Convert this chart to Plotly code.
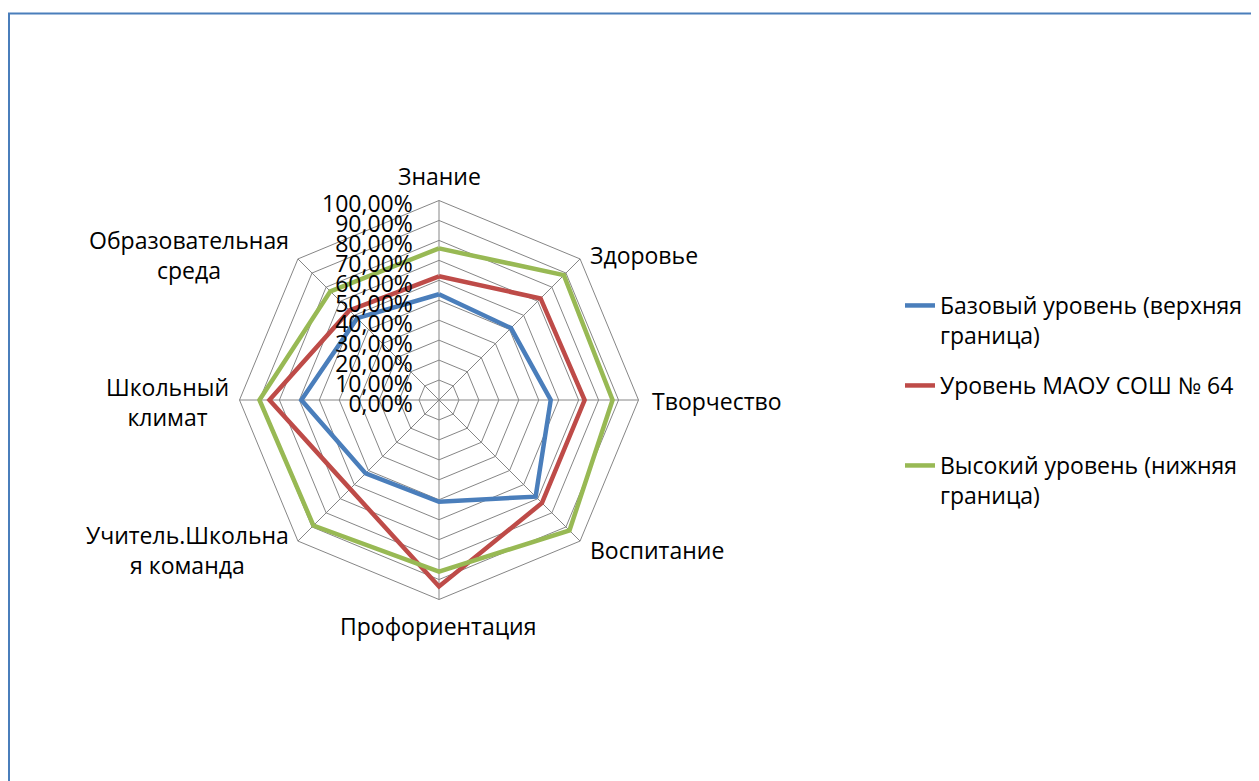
import plotly.graph_objects as go

categories = ["Знание", "Здоровье", "Творчество", "Воспитание", "Профориентация",
              "Учитель.Школьная команда", "Школьный климат", "Образовательная среда"]
category_labels = ["Знание", "Здоровье", "Творчество", "Воспитание", "Профориентация",
                   "Учитель.Школьна<br>я команда", "Школьный<br>климат", "Образовательная<br>среда"]

series_names = ["Базовый уровень (верхняя<br>граница)",
                "Уровень МАОУ СОШ № 64",
                "Высокий уровень (нижняя<br>граница)"]
basic = [0.53, 0.51, 0.56, 0.685, 0.51, 0.52, 0.69, 0.58]
school = [0.62, 0.72, 0.73, 0.73, 0.935, 0.63, 0.85, 0.635]
high = [0.76, 0.885, 0.87, 0.925, 0.86, 0.89, 0.90, 0.77]

colors = ["#4A7EBB", "#BE4B48", "#98B954"]
OFF = 8  # default body margin of the html page
W, H = 1259 - OFF, 781 - OFF
FONT = "Open Sans"
FS = 23


def px(x):
    return (x - OFF) / W


def py(y):
    return 1 - (y - OFF) / H


fig = go.Figure()
legends = ["legend", "legend2", "legend3"]
for name, vals, col, lg in zip(series_names, [basic, school, high], colors, legends):
    fig.add_trace(go.Scatterpolar(
        r=vals + vals[:1], theta=categories + categories[:1],
        mode="lines", name=name, line=dict(color=col, width=4.5),
        legend=lg, showlegend=True, hoverinfo="skip"))

cx, cy, R = 439 - OFF, 400 - OFF, 199.5
grid = "#868686"

# category label placement (page pixels): x, y centre, x-anchor
label_pos = [(439.5, 176, "center"), (588, 255, "left"), (650, 401, "left"),
             (588, 550, "left"), (438, 626, "center"), (291, 550, "right"),
             (231, 402, "right"), (291, 255, "right")]
annotations = [dict(text=t, x=px(x), y=py(y), xref="paper", yref="paper", xanchor=a,
                    yanchor="middle", align="center", showarrow=False,
                    font=dict(size=FS, family=FONT, color="black"))
               for t, (x, y, a) in zip(category_labels, label_pos)]


def leg(top_page):
    return dict(x=px(900), y=py(top_page), xanchor="left", yanchor="top",
                valign="top", font=dict(size=FS, family=FONT), bgcolor="rgba(0,0,0,0)")


fig.update_layout(
    width=W, height=H, margin=dict(l=0, r=0, t=0, b=0), showlegend=True,
    paper_bgcolor="white", plot_bgcolor="white",
    separators=", ",
    font=dict(family=FONT, size=FS, color="black"),
    polar=dict(
        domain=dict(x=[(cx - R) / W, (cx + R) / W], y=[(H - cy - R) / H, (H - cy + R) / H]),
        bgcolor="white", gridshape="linear",
        radialaxis=dict(range=[0, 1], dtick=0.1, tickformat=".2%", angle=90,
                        side="counterclockwise", showline=False, gridcolor=grid, gridwidth=1,
                        ticks="outside", ticklen=5, tickcolor="rgba(0,0,0,0)",
                        tickfont=dict(size=FS, family=FONT)),
        angularaxis=dict(rotation=90, direction="clockwise", categoryorder="array",
                         categoryarray=categories, showticklabels=False,
                         gridcolor=grid, linecolor=grid, linewidth=1, ticks=""),
    ),
    legend=leg(284),
    legend2=leg(364),
    legend3=leg(444),
    annotations=annotations,
    shapes=[dict(type="rect", xref="paper", yref="paper", x0=px(9), x1=1.02,
                 y0=-0.02, y1=py(13.5), line=dict(color="#4A7EBB", width=2))],
)

fig.write_html("out.html")
